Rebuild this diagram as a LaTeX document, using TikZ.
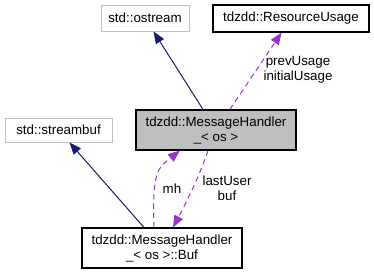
\documentclass[tikz,border=0pt]{standalone}
\usepackage{fontspec}
\setmainfont{Liberation Sans}
\usetikzlibrary{arrows.meta}
\definecolor{inhblue}{HTML}{191970}
\definecolor{usepurple}{HTML}{9A32CD}
\definecolor{lightframe}{HTML}{BFBFBF}
\begin{document}
\begin{tikzpicture}[x=0.75pt,y=-0.75pt,
  every node/.style={font=\fontsize{10}{11.25}\selectfont,align=center,inner sep=0pt},
  cls/.style={draw,line width=0.8pt},
  extcls/.style={draw=lightframe,line width=0.7pt},
  inherit/.style={draw=inhblue,line width=0.75pt,-{Triangle[length=9pt,width=7pt]}},
  member/.style={draw=usepurple,line width=0.75pt,dash pattern=on 4pt off 3pt,-{Triangle[length=9pt,width=7pt]}}]
\useasboundingbox (0,0) rectangle (374,275);
\node[extcls,minimum width=66pt,minimum height=19.5pt] (ostream) at (145,18) {std::ostream};
\node[cls,minimum width=117pt,minimum height=20.25pt] (resusage) at (291,18.5) {tdzdd::ResourceUsage};
\node[cls,fill=lightframe,minimum width=120pt,minimum height=30pt] (handler) at (216,130) {tdzdd::MessageHandler\\\_< os >};
\node[extcls,minimum width=80.25pt,minimum height=18pt] (streambuf) at (58.5,130) {std::streambuf};
\node[cls,minimum width=120pt,minimum height=30pt] (buf) at (162,248) {tdzdd::MessageHandler\\\_< os >::Buf};
\draw[inherit] (handler)--(ostream);
\draw[inherit] (buf)--(streambuf);
\draw[member] (handler)--(resusage);
\draw[member] ([xshift=-6pt]buf.north) .. controls (152,170) and (158,168) .. ([xshift=-27pt]handler.south);
\draw[member] ([xshift=-6pt]handler.south) .. controls (200,175) and (185,205) .. ([xshift=8.25pt]buf.north);
\node (prevlbl) at (298,70) {prevUsage\\initialUsage};
\node (mhlbl) at (172,189) {mh};
\node (lastlbl) at (227,188) {lastUser\\buf};
\end{tikzpicture}
\end{document}
